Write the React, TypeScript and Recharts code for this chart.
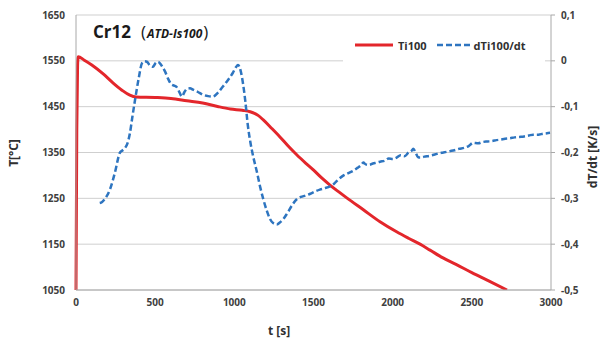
import React from 'react';
import { LineChart, Line, XAxis, YAxis, CartesianGrid, Legend } from 'recharts';

const redTimes = [0, 5, 10, 14, 50, 100, 170, 230, 290, 340, 380, 500, 600, 700, 800, 900, 975, 1050, 1100, 1150, 1183, 1235, 1288, 1340, 1394, 1450, 1499, 1550, 1604, 1660, 1710, 1815, 1920, 2025, 2100, 2173, 2236, 2318, 2400, 2500, 2600, 2722];
const redValues = [1050, 1400, 1540, 1559, 1552, 1541, 1522, 1503, 1486, 1475, 1471, 1470, 1468, 1463, 1458, 1450, 1445, 1442, 1439, 1431, 1421, 1403, 1384, 1364, 1345, 1327, 1312, 1295, 1279, 1264, 1251, 1225, 1199, 1177, 1163, 1150, 1137, 1120, 1106, 1088, 1071, 1050];

const blueTimes = [150, 165, 185, 215, 245, 278, 295, 310, 325, 341, 357, 373, 395, 417, 432, 448, 466, 486, 500, 518, 540, 562, 583, 604, 620, 638, 655, 669, 685, 701, 720, 739, 770, 802, 835, 865, 895, 928, 960, 991, 1010, 1023, 1040, 1055, 1070, 1085, 1100, 1120, 1143, 1163, 1183, 1205, 1225, 1245, 1268, 1290, 1310, 1335, 1365, 1394, 1420, 1450, 1480, 1510, 1540, 1570, 1604, 1630, 1660, 1690, 1720, 1750, 1780, 1800, 1815, 1830, 1850, 1875, 1900, 1920, 1950, 1975, 2000, 2025, 2050, 2075, 2100, 2120, 2130, 2145, 2160, 2173, 2200, 2236, 2260, 2290, 2320, 2362, 2390, 2420, 2450, 2480, 2508, 2540, 2570, 2600, 2630, 2655, 2678, 2710, 2740, 2770, 2800, 2830, 2860, 2887, 2920, 2950, 2975, 2994];
const blueValues = [-0.31, -0.308, -0.3, -0.28, -0.245, -0.2, -0.195, -0.19, -0.18, -0.157, -0.12, -0.085, -0.04, -0.005, -0.001, -0.002, -0.01, -0.013, -0.006, -0.002, -0.01, -0.023, -0.04, -0.052, -0.054, -0.058, -0.07, -0.078, -0.068, -0.061, -0.06, -0.063, -0.068, -0.074, -0.077, -0.078, -0.07, -0.056, -0.042, -0.026, -0.014, -0.009, -0.022, -0.05, -0.09, -0.14, -0.175, -0.21, -0.243, -0.275, -0.302, -0.327, -0.345, -0.354, -0.357, -0.352, -0.345, -0.332, -0.315, -0.302, -0.297, -0.294, -0.29, -0.285, -0.281, -0.278, -0.274, -0.268, -0.258, -0.25, -0.245, -0.24, -0.233, -0.228, -0.222, -0.226, -0.227, -0.224, -0.222, -0.22, -0.218, -0.213, -0.214, -0.211, -0.206, -0.208, -0.2, -0.196, -0.192, -0.2, -0.21, -0.211, -0.209, -0.207, -0.205, -0.202, -0.2, -0.197, -0.195, -0.192, -0.19, -0.186, -0.179, -0.18, -0.177, -0.176, -0.175, -0.173, -0.172, -0.17, -0.169, -0.167, -0.166, -0.165, -0.163, -0.161, -0.161, -0.159, -0.158, -0.157];

const xTicks = [0, 500, 1000, 1500, 2000, 2500, 3000];
const leftTicks = [1050, 1150, 1250, 1350, 1450, 1550, 1650];
const rightTicks = [-0.5, -0.4, -0.3, -0.2, -0.1, 0, 0.1];

const redData = redTimes.map((t, i) => ({ t, T: redValues[i] }));
const blueData = blueTimes.map((t, i) => ({ t, d: blueValues[i] }));

const RED = '#e3262b';
const BLUE = '#2e75c0';
const FONT = '"Open Sans", "DejaVu Sans", sans-serif';
const tickStyle = { fontSize: 10, fontWeight: 700, fill: '#404040', fontFamily: FONT };

const fmtRight = (v: number) => {
  const r = Math.round(v * 10) / 10;
  return r === 0 ? '0' : String(r).replace('.', ',');
};

const LegendContent = () => (
  <div style={{ display: 'flex', alignItems: 'center', fontFamily: FONT, fontSize: 11, fontWeight: 700, color: '#303030', height: '100%' }}>
    <svg width={40} height={10} style={{ marginLeft: 12 }}>
      <line x1={0} y1={5} x2={38} y2={5} stroke={RED} strokeWidth={3} />
    </svg>
    <span style={{ marginLeft: 3 }}>Ti100</span>
    <svg width={36} height={10} style={{ marginLeft: 10 }}>
      <line x1={0} y1={5} x2={35} y2={5} stroke={BLUE} strokeWidth={2.5} strokeDasharray="6 3" />
    </svg>
    <span style={{ marginLeft: 1 }}>dTi100/dt</span>
  </div>
);

export default function App() {
  return (
    <div style={{ position: 'absolute', left: 0, top: 0, width: 600, height: 340, background: '#fff' }}>
      <LineChart width={600} height={340} margin={{ top: 15, right: 0, bottom: 0, left: 0 }}>
        <CartesianGrid horizontal vertical={false} stroke="#cfcfcf" strokeWidth={1} yAxisId="left" />
        <XAxis
          dataKey="t"
          type="number"
          domain={[0, 3000]}
          ticks={xTicks}
          height={50}
          allowDuplicatedCategory={false}
          stroke="#a8a8a8"
          tickLine={false}
          tickSize={6}
          tickMargin={3}
          tick={tickStyle}
        />
        <YAxis
          yAxisId="left"
          orientation="left"
          domain={[1050, 1650]}
          ticks={leftTicks}
          width={76}
          allowDataOverflow
          stroke="#a8a8a8"
          tickLine={false}
          tickSize={6}
          tickMargin={5}
          tick={tickStyle}
        />
        <YAxis
          yAxisId="right"
          orientation="right"
          domain={[-0.5, 0.1]}
          ticks={rightTicks}
          width={49}
          allowDataOverflow
          stroke="#a8a8a8"
          tickLine={{ stroke: '#a8a8a8' }}
          tickSize={4}
          tickMargin={6}
          tick={tickStyle}
          tickFormatter={fmtRight}
        />
        <Legend
          layout="horizontal"
          verticalAlign="middle"
          align="center"
          content={<LegendContent />}
          wrapperStyle={{ left: 343, top: 26, width: 202, height: 38, backgroundColor: '#fff' }}
        />
        <Line
          yAxisId="left"
          data={redData}
          dataKey="T"
          name="Ti100"
          type="monotone"
          stroke={RED}
          strokeWidth={3}
          dot={false}
          isAnimationActive={false}
        />
        <Line
          yAxisId="right"
          data={blueData}
          dataKey="d"
          name="dTi100/dt"
          type="monotone"
          stroke={BLUE}
          strokeWidth={2.5}
          strokeDasharray="6 3"
          dot={false}
          isAnimationActive={false}
        />
      </LineChart>
      <svg width={600} height={340} style={{ position: 'absolute', left: 0, top: 0, pointerEvents: 'none' }}>
        <text x={93} y={38} fontFamily={FONT} fontSize={17} fontWeight={700} fill="#1a1a1a">
          Cr12
          <tspan dx={10} fontWeight={400}>(</tspan>
          <tspan dx={1} fontSize={12} fontStyle="italic" fontWeight={700}>ATD-Is100</tspan>
          <tspan dx={1} fontWeight={400}>)</tspan>
        </text>
        <text x={18} y={153} transform="rotate(-90 18 153)" textAnchor="middle" fontFamily={FONT} fontSize={12} fontWeight={700} fill="#303030">T[°C]</text>
        <text x={597} y={157} transform="rotate(-90 597 157)" textAnchor="middle" fontFamily={FONT} fontSize={12} fontWeight={700} fill="#303030">dT/dt [K/s]</text>
        <text x={279} y={335} textAnchor="middle" fontFamily={FONT} fontSize={12} fontWeight={700} fill="#303030">t [s]</text>
      </svg>
    </div>
  );
}
